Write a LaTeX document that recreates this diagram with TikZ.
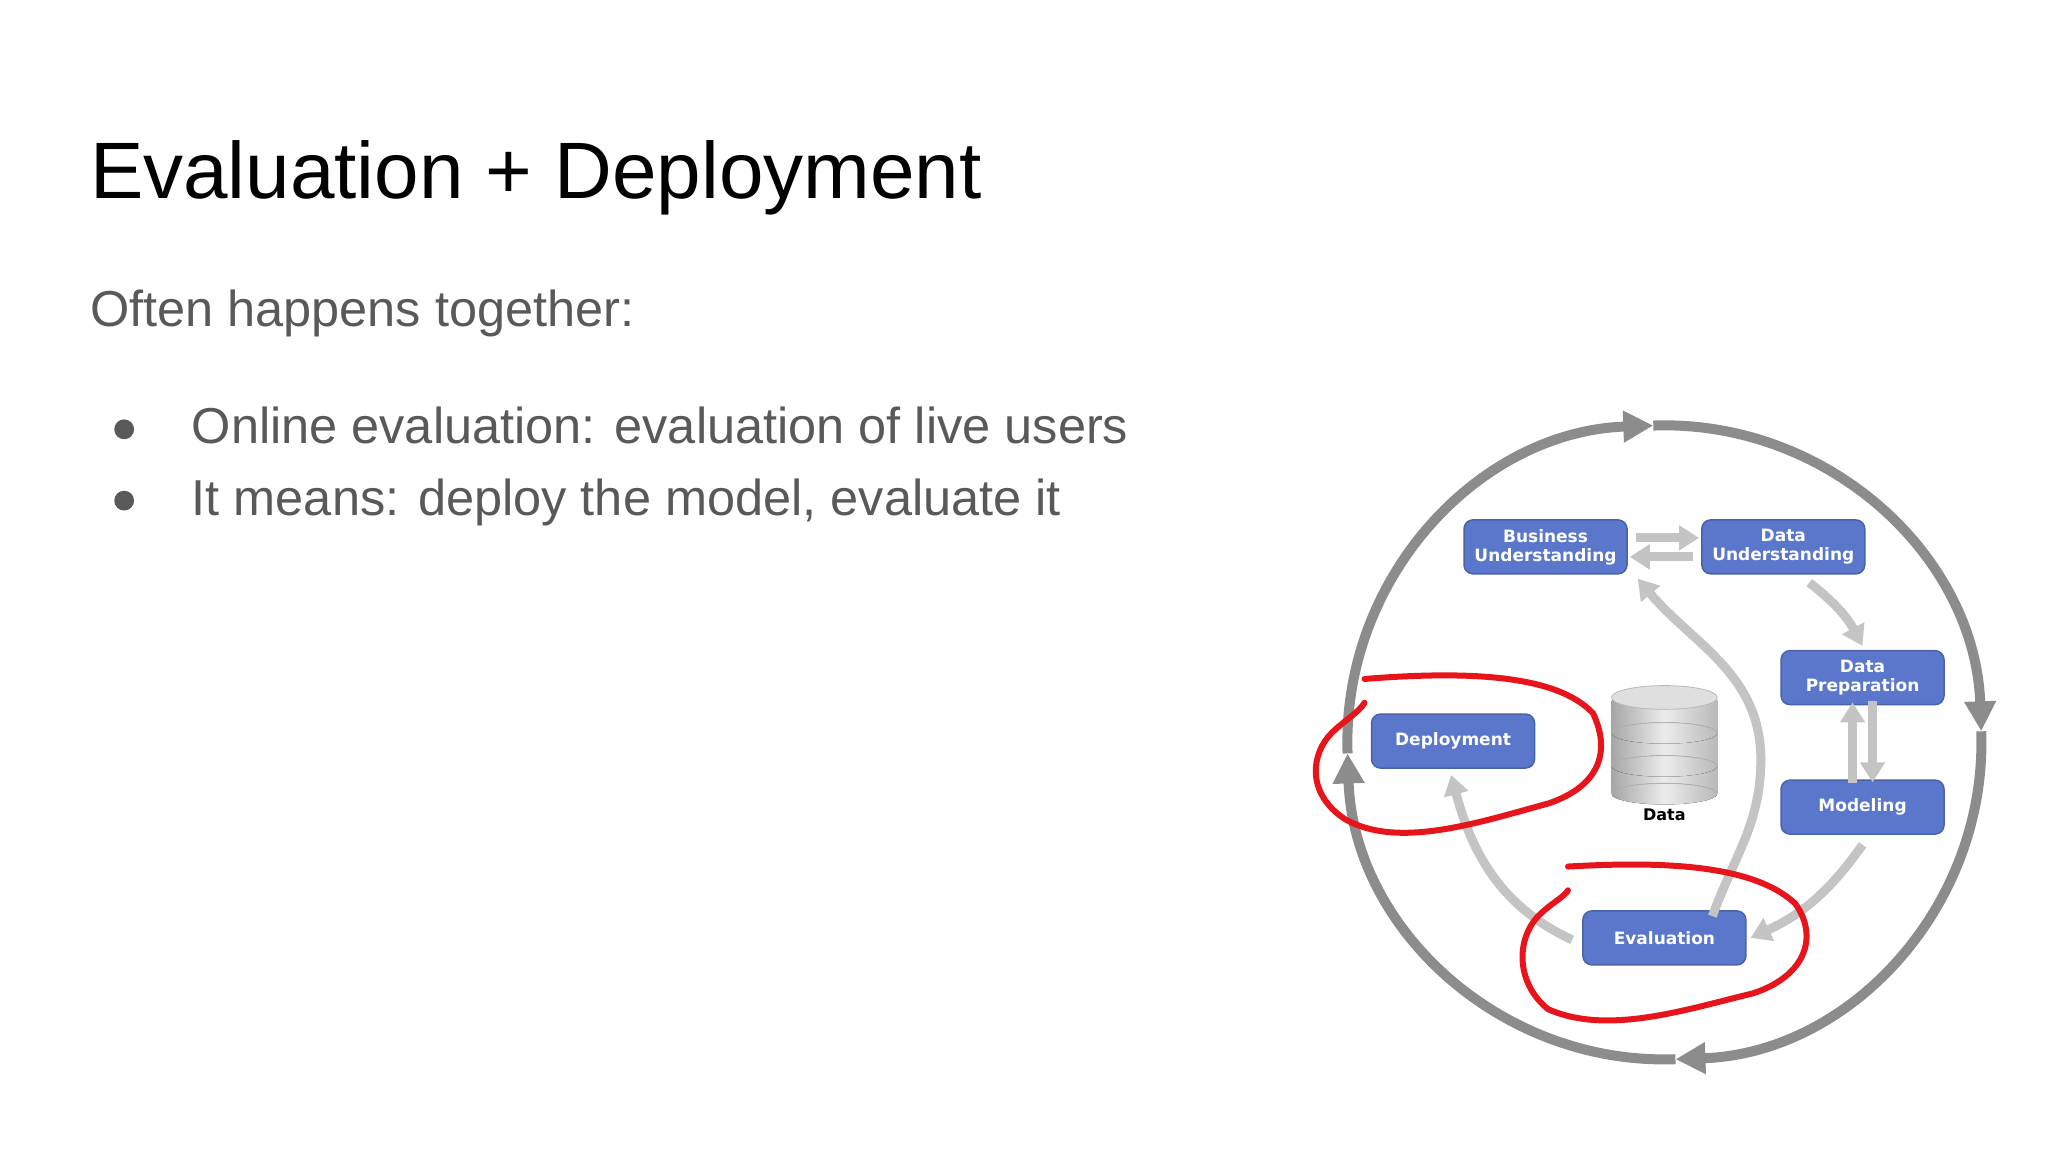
\documentclass[tikz,border=0pt]{standalone}
\usepackage{fontspec}
\setmainfont{Liberation Sans}
\newfontfamily\boxfont{DejaVu Sans}
\usetikzlibrary{arrows.meta, calc, positioning}
\definecolor{slidegrey}{HTML}{595959}
\definecolor{ringgrey}{HTML}{8C8C8C}
\definecolor{flowgrey}{HTML}{C4C4C4}
\definecolor{phaseblue}{HTML}{5B77CC}
\definecolor{phaseedge}{HTML}{4A62A8}
\definecolor{penred}{HTML}{E8141C}
\tikzset{
  phase/.style={draw=phaseedge, line width=1.5pt, fill=phaseblue, rounded corners=9pt,
    minimum width=163pt, minimum height=54pt, align=center, text=white,
    font=\boxfont\bfseries\fontsize{17}{19}\selectfont, inner sep=2pt},
  ring/.style={draw=ringgrey, line width=10pt, -{Triangle[length=30pt,width=30pt]}},
  flow/.style={draw=flowgrey, line width=9pt, -{Triangle[length=20pt,width=24pt]}},
  pen/.style={draw=penred, line width=6pt, line cap=round}
}
\begin{document}
\begin{tikzpicture}[x=1.321pt, y=-1.321pt]
\useasboundingbox[fill=white] (0,0) rectangle (1550.4,872);
% slide text
\node[anchor=base west, inner sep=0, font=\fontsize{80}{90}\selectfont] (title) at (68,150) {Evaluation + Deployment};
\node[anchor=base west, inner sep=0, text=slidegrey, font=\fontsize{50.5}{56}\selectfont] (sub) at (68,247) {Often happens together:};
\node[anchor=base west, inner sep=0, text=slidegrey, font=\fontsize{50.5}{56}\selectfont] (itemA) at (145,336) {Online evaluation: evaluation of live users};
\node[anchor=base west, inner sep=0, text=slidegrey, font=\fontsize{50.5}{56}\selectfont] (itemB) at (145,390) {It means: deploy the model, evaluate it};
\fill[slidegrey] (94,325) circle (7.5);
\fill[slidegrey] (94,379) circle (7.5);

% outer cycle
\coordinate (c) at (1260,562);
\draw[ring] ($(c)+(178:240)$) arc[start angle=178, end angle=268, radius=240];
\draw[ring] ($(c)+(268:240)$) arc[start angle=268, end angle=358, radius=240];
\draw[ring] ($(c)+(358:240)$) arc[start angle=358, end angle=448, radius=240];
\draw[ring] ($(c)+(448:240)$) arc[start angle=448, end angle=538, radius=240];

% phases
\node[phase] (bu) at (1170,414) {Business\\Understanding};
\node[phase] (du) at (1350,414) {Data\\Understanding};
\node[phase] (dp) at (1410,513) {Data\\Preparation};
\node[phase] (mo) at (1410,611) {Modeling};
\node[phase] (de) at (1100,561) {Deployment};
\node[phase] (ev) at (1260,710) {Evaluation};

% data store
\foreach \yt/\yb in {580/601, 555/580, 530/555}{
  \fill[left color=gray!70, right color=gray!55, middle color=gray!15] (1220,\yt) rectangle (1300,\yb);
  \fill[left color=gray!70, right color=gray!55, middle color=gray!15] (1260,\yb) ellipse (40 and 8);
  \draw[gray!60, line width=0.8pt] (1220,\yb) arc[start angle=180, end angle=0, x radius=40, y radius=-8];
}
\fill[gray!25] (1260,528) ellipse (40 and 9);
\draw[gray!55, line width=0.8pt] (1260,528) ellipse (40 and 9);
\node[font=\boxfont\bfseries\fontsize{16}{18}\selectfont] (data) at (1260,617) {Data};

% inner flow
\draw[flow] ([yshift=9pt,xshift=8pt]bu.east) -- ([yshift=9pt,xshift=-2pt]du.west);
\draw[flow] ([yshift=-10pt,xshift=-8pt]du.west) -- ([yshift=-10pt,xshift=2pt]bu.east);
\draw[flow] ([shift={(26pt,-8pt)}]du.south) to[bend left=12] ([shift={(0pt,4pt)}]dp.north);
\draw[flow] ([shift={(-10pt,-4pt)}]mo.north) -- ([shift={(-10pt,3pt)}]dp.south);
\draw[flow] ([shift={(10pt,4pt)}]dp.south) -- ([shift={(10pt,-3pt)}]mo.north);
\draw[flow] ([yshift=-10pt]mo.south) to[bend left=15] ([xshift=4pt]ev.east);
\draw[flow] ([xshift=48pt,yshift=-6pt]ev.north) to[out=70, in=-90] (1333,575) to[out=90, in=-50] ([xshift=10pt,yshift=-4pt]bu.south east);
\draw[flow] ([xshift=-10pt,yshift=-2pt]ev.west) to[out=155, in=-75] ([xshift=-2pt,yshift=-6pt]de.south);

% hand-drawn marks
\draw[pen] (1033,514) .. controls (1108,508) and (1178,510) .. (1206,540)
  .. controls (1220,570) and (1210,595) .. (1173,608)
  .. controls (1118,623) and (1058,643) .. (1018,620)
  .. controls (988,600) and (993,570) .. (1008,555)
  .. controls (1018,545) and (1028,540) .. (1033,532);
\draw[pen] (1187,656) .. controls (1257,652) and (1327,654) .. (1359,684)
  .. controls (1377,709) and (1367,739) .. (1327,752)
  .. controls (1277,764) and (1217,784) .. (1172,764)
  .. controls (1147,744) and (1147,709) .. (1167,691)
  .. controls (1177,682) and (1184,679) .. (1187,674);
\end{tikzpicture}
\end{document}
